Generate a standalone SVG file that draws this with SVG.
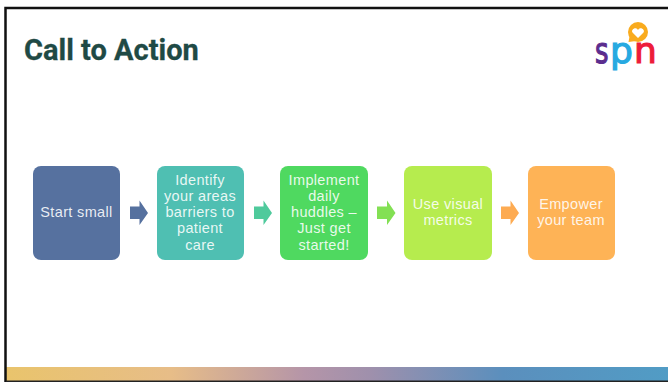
<svg xmlns="http://www.w3.org/2000/svg" width="668" height="382" viewBox="0 0 668 382">
<defs>
<linearGradient id="band" x1="0" y1="0" x2="1" y2="0">
<stop offset="0" stop-color="#e9c46c"/><stop offset="0.25" stop-color="#e7bd88"/><stop offset="0.45" stop-color="#b595a8"/><stop offset="0.55" stop-color="#9f90ac"/><stop offset="0.75" stop-color="#5b8fbd"/><stop offset="1" stop-color="#519cc5"/>
</linearGradient>
</defs>
<style>
.box{stroke:none}
.t{font-family:"Liberation Sans",Arial,sans-serif;font-size:14.500px;letter-spacing:.35px;fill:#fff;fill-opacity:.88;text-anchor:middle}
.l{font-family:"DejaVu Sans",sans-serif;font-size:36px;stroke-width:1.200px}
</style>
<rect width="668" height="382" fill="#fff"/>
<rect x="6" y="367" width="662" height="14" fill="url(#band)"/>
<path d="M5.500 382V8H668" fill="none" stroke="#111" stroke-width="2.500"/>
<rect x="6" y="380.500" width="662" height="1.500" fill="#222"/>
<text x="24" y="60" font-family="Roboto,'Liberation Sans',sans-serif" font-weight="700" font-size="29" stroke="#1f4a45" stroke-width=".3" fill="#1f4a45">Call to Action</text>
<g id="logo">
<circle cx="638" cy="32" r="10" fill="#f9ab1e"/>
<path d="M628.500 42l1.500-8 6 7z" fill="#f9ab1e"/>
<path d="M638 38l-5.500-5.500c-2-3 3.500-6.500 5.500-2.500 2-4 7.500-.5 5.500 2.500z" fill="#fff"/>
<text class="l" transform="translate(595 63) scale(.72 1)" fill="#5b2d8e" stroke="#5b2d8e">s</text>
<text class="l" x="610" y="63" fill="#27a9e1" stroke="#27a9e1">p</text>
<text class="l" x="634" y="63" fill="#ed1c3a" stroke="#ed1c3a">n</text>
</g>
<g id="connectors">
<path d="M130 206.500h9.500v-6l8.500 12.500-8.500 12v-6h-9.500z" fill="#56719f"/>
<path d="M254 206.500h9.500v-6l8.500 12.500-8.500 12v-6h-9.500z" fill="#4fca9c"/>
<path d="M377 206.500h10v-6l8.500 12.500-8.500 12v-6h-10z" fill="#83e054"/>
<path d="M501 206.500h9.500v-6l8.500 12.500-8.500 12v-6h-9.500z" fill="#fdab52"/>
</g>
<g id="n1"><rect class="box" x="33" y="166" width="87" height="94" rx="8" fill="#56719f"/><text class="t" x="76.500" y="217">Start small</text></g>
<g id="n2"><rect class="box" x="157" y="166" width="87" height="94" rx="8" fill="#4fbfb2"/><text class="t"><tspan x="200" y="185">Identify</tspan><tspan x="200" y="201">your areas</tspan><tspan x="200" y="217">barriers to</tspan><tspan x="200" y="233">patient</tspan><tspan x="200" y="250">care</tspan></text></g>
<g id="n3"><rect class="box" x="280" y="166" width="88" height="94" rx="8" fill="#4fd960"/><text class="t"><tspan x="324" y="185">Implement</tspan><tspan x="324" y="201">daily</tspan><tspan x="324" y="217">huddles –</tspan><tspan x="324" y="233">Just get</tspan><tspan x="324" y="250">started!</tspan></text></g>
<g id="n4"><rect class="box" x="404" y="166" width="88" height="94" rx="8" fill="#b6ec4e"/><text class="t"><tspan x="448" y="209">Use visual</tspan><tspan x="448" y="225">metrics</tspan></text></g>
<g id="n5"><rect class="box" x="528" y="166" width="87" height="94" rx="8" fill="#feb356"/><text class="t"><tspan x="571" y="209">Empower</tspan><tspan x="571" y="225">your team</tspan></text></g>
</svg>
